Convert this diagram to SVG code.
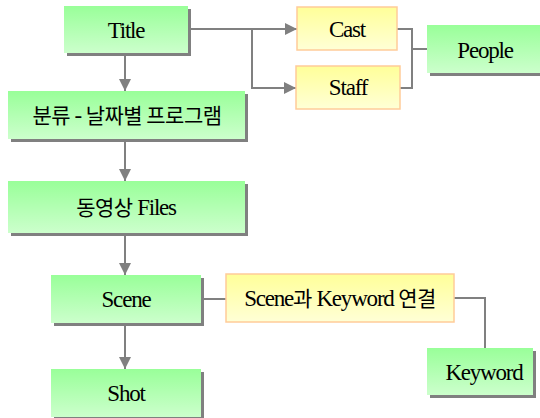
<svg xmlns="http://www.w3.org/2000/svg" width="540" height="418" viewBox="0 0 540 418">
<defs>
<linearGradient id="g" x1="0" y1="0" x2="0" y2="1"><stop offset="0" stop-color="#99FF99"/><stop offset="1" stop-color="#CCFFCC"/></linearGradient>
<linearGradient id="y" x1="0" y1="0" x2="0" y2="1"><stop offset="0" stop-color="#FFFF99"/><stop offset="1" stop-color="#FFFFD6"/></linearGradient>
<marker id="a" markerUnits="userSpaceOnUse" markerWidth="12" markerHeight="12" refX="12" refY="6" orient="auto"><path d="M0,0 L12,6 L0,12 z" fill="#808080"/></marker>
<style>
.sh{fill:#808080}
.gn{fill:url(#g)}
.yl{fill:url(#y);stroke:#FFCC99;stroke-width:1.5}
text{font-family:'Liberation Serif',serif;font-size:23px;fill:#000;text-anchor:middle;letter-spacing:-1.2px}
tspan.k{font-family:'Noto Sans CJK KR',sans-serif;font-size:21px;letter-spacing:-0.5px}
.c{fill:none;stroke:#808080;stroke-width:2}
</style>
</defs>
<g id="connectors">
<path class="c" d="M125,56 V91" marker-end="url(#a)"/>
<path class="c" d="M125,142 V181" marker-end="url(#a)"/>
<path class="c" d="M125,236 V275" marker-end="url(#a)"/>
<path class="c" d="M125,326 V369" marker-end="url(#a)"/>
<path class="c" d="M188,29 H297" marker-end="url(#a)"/>
<path class="c" d="M252,29 V88 H296" marker-end="url(#a)"/>
<path class="c" d="M397,29 H412 V88 H400"/>
<path class="c" d="M412,49 H427"/>
<path class="c" d="M201,299 H226"/>
<path class="c" d="M454,298 H485 V348"/>
</g>
<g id="title"><rect class="sh" x="67" y="9" width="124" height="47"/><rect class="gn" x="64" y="6" width="124" height="47"/><text x="126" y="38">Title</text></g>
<g id="category"><rect class="sh" x="11" y="94" width="237" height="48"/><rect class="gn" x="8" y="91" width="237" height="48"/><text x="127" y="123"><tspan class="k">분류</tspan> - <tspan class="k">날짜별 프로그램</tspan></text></g>
<g id="files"><rect class="sh" x="11" y="184" width="237" height="52"/><rect class="gn" x="8" y="181" width="237" height="52"/><text x="126" y="215"><tspan class="k">동영상</tspan> Files</text></g>
<g id="scene"><rect class="sh" x="54" y="278" width="150" height="48"/><rect class="gn" x="51" y="275" width="150" height="48"/><text x="126" y="307">Scene</text></g>
<g id="shot"><rect class="sh" x="54" y="372" width="150" height="48"/><rect class="gn" x="51" y="369" width="150" height="48"/><text x="126" y="401">Shot</text></g>
<g id="cast"><rect class="yl" x="297" y="7" width="100" height="43"/><text x="347" y="37">Cast</text></g>
<g id="staff"><rect class="yl" x="296" y="66" width="104" height="43"/><text x="348" y="95">Staff</text></g>
<g id="people"><rect class="sh" x="430" y="28" width="112" height="48"/><rect class="gn" x="427" y="25" width="113" height="48"/><text x="485" y="58">People</text></g>
<g id="link"><rect class="yl" x="226" y="274" width="228" height="48"/><text x="340" y="306">Scene<tspan class="k">과</tspan> Keyword <tspan class="k">연결</tspan></text></g>
<g id="keyword"><rect class="sh" x="430" y="351" width="106" height="47"/><rect class="gn" x="427" y="348" width="106" height="47"/><text x="484" y="380">Keyword</text></g>
</svg>
